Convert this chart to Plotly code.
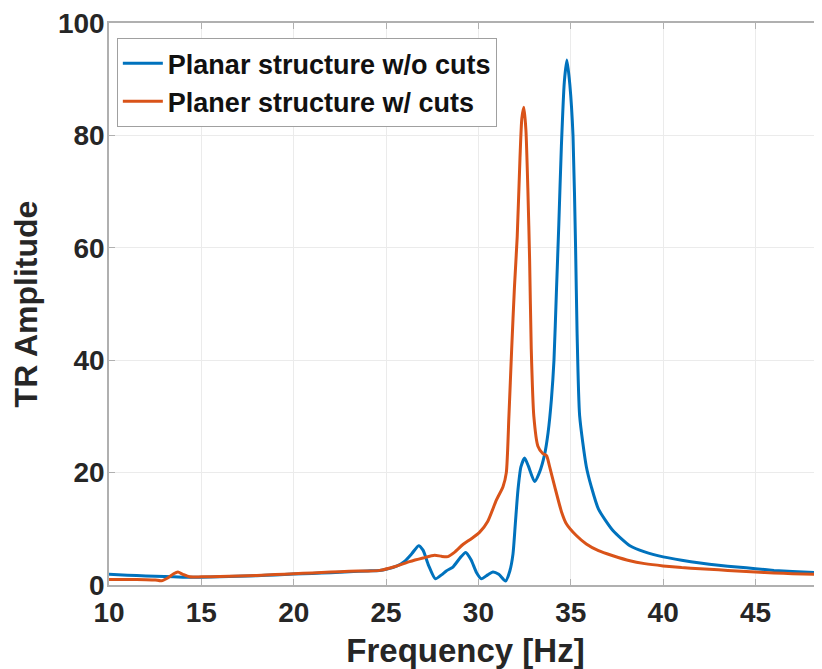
import plotly.graph_objects as go

# Planar structure without cuts (blue)
freq_nocut = [10.0, 11.0, 12.0, 13.0, 14.0, 15.0, 16.0, 17.0, 18.0, 19.0, 20.0, 21.0, 22.0, 23.0, 24.0,
              24.65, 25.0, 25.6, 26.0, 26.4, 26.76, 27.0, 27.3, 27.67, 28.0, 28.26, 28.62, 29.0, 29.31,
              29.6, 29.9, 30.16, 30.5, 30.78, 31.1, 31.47, 31.7, 31.87, 32.0, 32.14, 32.3, 32.5, 32.7,
              33.04, 33.3, 33.58, 33.77, 33.95, 34.09, 34.22, 34.35, 34.49, 34.65, 34.79, 34.95, 35.12,
              35.26, 35.34, 35.48, 35.84, 36.11, 36.5, 37.28, 38.2, 39.0, 40.0, 41.0, 42.0, 43.0, 44.0,
              45.0, 46.0, 47.0, 48.6]
amp_nocut = [1.9, 1.75, 1.6, 1.5, 1.4, 1.4, 1.45, 1.55, 1.65, 1.8, 1.95, 2.05, 2.2, 2.35, 2.5,
             2.6, 2.8, 3.4, 4.2, 5.6, 7.0, 6.2, 3.5, 1.1, 1.8, 2.5, 3.2, 4.8, 5.8,
             4.5, 2.2, 1.1, 1.8, 2.3, 1.9, 0.7, 2.5, 5.5, 11.0, 16.9, 21.0, 22.6, 21.2,
             18.4, 20.0, 23.2, 27.1, 33.0, 40.0, 52.0, 64.0, 78.0, 89.5, 93.4, 89.0, 80.0,
             60.0, 45.0, 30.1, 21.1, 17.5, 13.5, 9.7, 7.0, 5.9, 5.0, 4.4, 3.9, 3.5, 3.2,
             2.9, 2.6, 2.4, 2.15]

# Planer structure with cuts (orange)
freq_cut = [10.0, 11.0, 12.0, 12.5, 12.83, 13.2, 13.5, 13.73, 14.0, 14.36, 15.0, 16.0, 17.0, 18.0,
            19.0, 20.0, 21.0, 22.0, 23.0, 24.0, 24.65, 25.5, 26.27, 27.0, 27.63, 28.0, 28.35, 28.7,
            29.16, 29.6, 30.07, 30.5, 30.97, 31.33, 31.51, 31.65, 31.8, 31.95, 32.1, 32.25, 32.35,
            32.46, 32.57, 32.68, 32.77, 32.86, 33.0, 33.22, 33.48, 33.69, 33.85, 34.13, 34.5, 34.76,
            35.3, 35.84, 36.5, 37.28, 38.2, 39.0, 40.0, 41.0, 42.0, 43.0, 44.0, 45.0, 46.0, 47.0, 48.6]
amp_cut = [1.0, 0.98, 0.95, 0.9, 0.75, 1.3, 2.0, 2.3, 1.9, 1.45, 1.45, 1.5, 1.6, 1.7,
           1.85, 2.0, 2.15, 2.3, 2.45, 2.5, 2.6, 3.3, 4.15, 4.8, 5.3, 5.1, 5.05, 5.8,
           7.2, 8.2, 9.4, 11.3, 15.1, 17.5, 20.0, 30.0, 42.0, 53.0, 62.0, 76.0, 83.0,
           85.0, 81.0, 70.0, 58.0, 42.0, 30.0, 24.7, 23.4, 23.0, 21.1, 17.5, 13.0, 10.9,
           8.8, 7.3, 6.1, 5.2, 4.3, 3.8, 3.4, 3.1, 2.9, 2.7, 2.5, 2.3, 2.15, 2.0, 1.85]

x_ticks = [10, 15, 20, 25, 30, 35, 40, 45]
y_ticks = [0, 20, 40, 60, 80, 100]

BLUE = "#0072BD"
ORANGE = "#D95319"
FONT = "Liberation Sans"

fig = go.Figure()
fig.add_trace(go.Scatter(x=freq_nocut, y=amp_nocut, mode="lines",
                         name="Planar structure w/o cuts",
                         line=dict(color=BLUE, width=3, shape="spline", smoothing=0.6)))
fig.add_trace(go.Scatter(x=freq_cut, y=amp_cut, mode="lines",
                         name="Planer structure w/ cuts",
                         line=dict(color=ORANGE, width=3, shape="spline", smoothing=0.6)))

axis_common = dict(
    automargin=False,
    showgrid=True, gridcolor="#ebebeb", gridwidth=1,
    showline=True, linecolor="#b0b0b0", linewidth=1.5, mirror="allticks",
    ticks="inside", ticklen=6, tickcolor="#b0b0b0", zeroline=False,
    ticklabeloverflow="allow",
    tickfont=dict(family=FONT, size=28, color="#262626", weight="bold"),
)

# the page body adds an 8px margin, so the figure is 8px smaller than the window
fig.update_layout(
    template="none",
    width=814, height=661,
    margin=dict(l=101, r=0, t=15, b=84, autoexpand=False),
    paper_bgcolor="white", plot_bgcolor="white",
    showlegend=True,
    legend=dict(x=0.011, y=0.973, xanchor="left", yanchor="top",
                bgcolor="white", bordercolor="#a0a0a0", borderwidth=1,
                font=dict(family=FONT, size=27, color="#111111", weight="bold"),
                tracegroupgap=0, itemwidth=40),
    xaxis=dict(range=[10, 48.6], tickvals=x_ticks, ticklabelstandoff=2,
               title=dict(text="Frequency [Hz]", standoff=19,
                          font=dict(family=FONT, size=33, color="#262626", weight="bold")),
               **axis_common),
    yaxis=dict(range=[0, 100], tickvals=y_ticks, ticklabelstandoff=-3,
               title=dict(text="TR Amplitude", standoff=24,
                          font=dict(family=FONT, size=32, color="#262626", weight="bold")),
               **axis_common),
)

fig.write_html("out.html")
